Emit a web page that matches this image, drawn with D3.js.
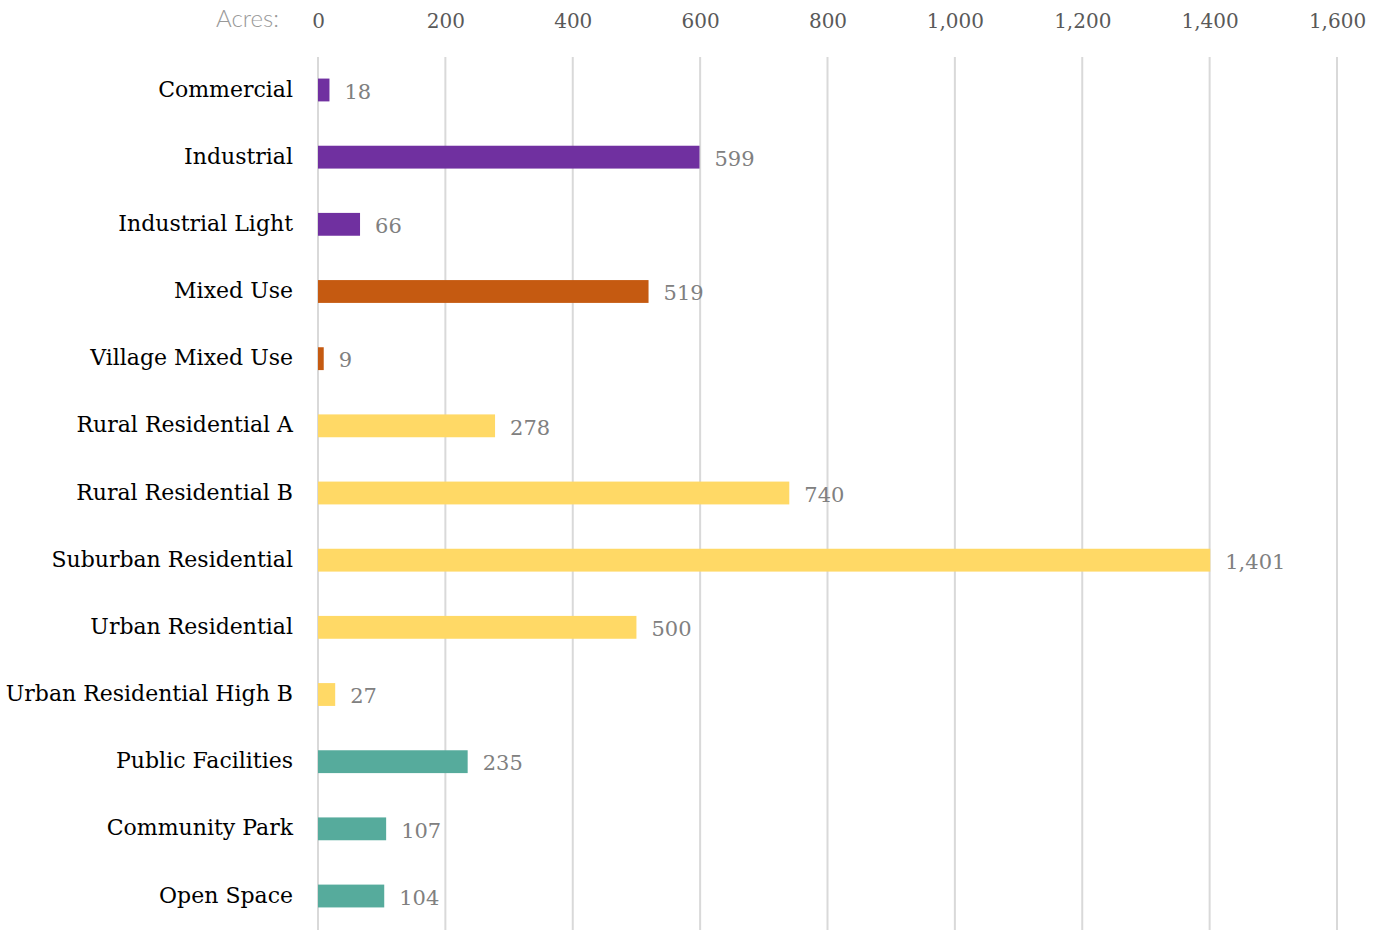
<!DOCTYPE html>
<html>
  <head>
    <title>Land use acres</title>
    <script src="https://d3js.org/d3.v7.min.js"></script>
    <style type="text/css">
      body {
          margin: 0;
          background: #ffffff;
      }
      .label {
          font-family: "DejaVu Serif", serif;
          font-size: 22px;
          fill: #000000;
      }
      .value {
          font-family: "DejaVu Serif", serif;
          font-size: 21px;
          fill: #808080;
      }
      .tick text {
          font-family: "DejaVu Serif", serif;
          font-size: 20px;
          fill: #595959;
      }
    </style>
  </head>
  <body>
    <script>
        // Data
        var categories = ["Commercial", "Industrial", "Industrial Light", "Mixed Use",
                          "Village Mixed Use", "Rural Residential A", "Rural Residential B",
                          "Suburban Residential", "Urban Residential", "Urban Residential High B",
                          "Public Facilities", "Community Park", "Open Space"];
        var acres = [18, 599, 66, 519, 9, 278, 740, 1401, 500, 27, 235, 107, 104];
        var groups = ["employment", "employment", "employment", "mixed", "mixed",
                      "residential", "residential", "residential", "residential", "residential",
                      "public", "public", "public"];
        var tickValues = [0, 200, 400, 600, 800, 1000, 1200, 1400, 1600];

        var svgWidth = 1382;
        var svgHeight = 930;
        var plotLeft = 318;
        var plotRight = 1337;
        var plotTop = 56.4;
        var plotBottom = 929.6;

        var svg = d3.select("body")
                    .append("svg")
                    .attr("width", svgWidth)
                    .attr("height", svgHeight);

        var xScale = d3.scaleLinear()
                       .domain([0, 1600])
                       .range([plotLeft, plotRight]);

        var yScale = d3.scaleBand()
                       .domain(categories)
                       .range([plotTop, plotBottom])
                       .paddingInner(0.66)
                       .paddingOuter(0.33);

        var colour = d3.scaleOrdinal()
                       .domain(["employment", "mixed", "residential", "public"])
                       .range(["#7030a0", "#c55a11", "#ffd966", "#56ab9c"]);

        // Gridlines
        svg.append("g")
           .selectAll("line")
           .data(tickValues)
           .enter()
           .append("line")
           .attr("x1", function(d) { return xScale(d); })
           .attr("x2", function(d) { return xScale(d); })
           .attr("y1", 57)
           .attr("y2", svgHeight)
           .attr("stroke", "#d9d9d9")
           .attr("stroke-width", 2);

        // Top axis
        var xAxis = d3.axisTop(xScale)
                      .tickValues(tickValues)
                      .tickFormat(d3.format(","))
                      .tickSize(0)
                      .tickPadding(0);

        var axis = svg.append("g")
                      .attr("transform", "translate(0,28)")
                      .call(xAxis);
        axis.select(".domain").remove();

        svg.append("text")
           .attr("x", 279)
           .attr("y", 27)
           .attr("text-anchor", "end")
           .attr("font-family", "Lato, 'Open Sans', sans-serif")
           .attr("font-weight", 300)
           .attr("font-size", "24px")
           .attr("fill", "#999999")
           .text("Acres:");

        // Bars
        svg.selectAll("rect.bar")
           .data(categories)
           .enter()
           .append("rect")
           .attr("class", "bar")
           .attr("x", xScale(0))
           .attr("y", function(d) { return yScale(d); })
           .attr("width", function(d, i) { return xScale(acres[i]) - xScale(0); })
           .attr("height", yScale.bandwidth())
           .attr("fill", function(d, i) { return colour(groups[i]); });

        // Category labels
        svg.selectAll(".label")
           .data(categories)
           .enter()
           .append("text")
           .attr("class", "label")
           .attr("x", 293)
           .attr("y", function(d) { return yScale(d) + yScale.bandwidth() / 2; })
           .attr("dy", "0.3em")
           .attr("text-anchor", "end")
           .text(function(d) { return d; });

        // Value labels
        svg.selectAll(".value")
           .data(categories)
           .enter()
           .append("text")
           .attr("class", "value")
           .attr("x", function(d, i) { return xScale(acres[i]) + 15; })
           .attr("y", function(d) { return yScale(d) + yScale.bandwidth() / 2; })
           .attr("dy", "0.42em")
           .text(function(d, i) { return d3.format(",")(acres[i]); });
    </script>
  </body>
</html>
